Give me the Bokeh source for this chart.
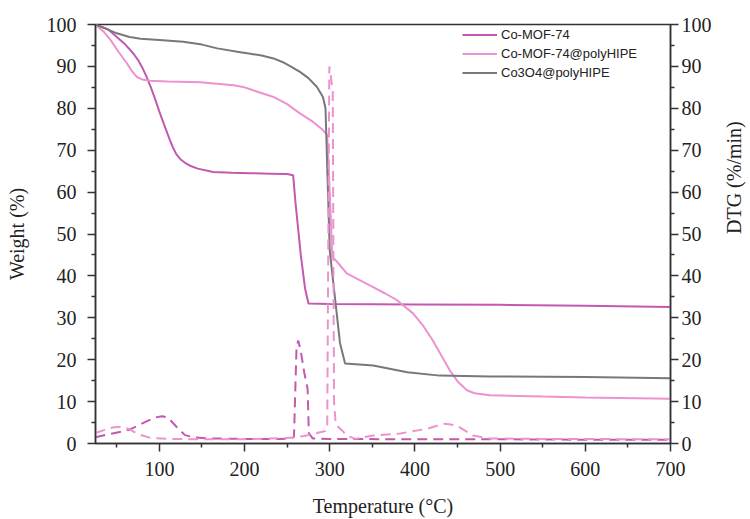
import math
from bokeh.plotting import figure
from bokeh.models import Range1d, LinearAxis, FixedTicker, Legend, LegendItem
from bokeh.embed import file_html
from bokeh.resources import INLINE

# ---- data ----
t_mof = [25, 40, 54, 60, 65, 70, 75, 80, 85, 90, 95, 100, 105, 112, 116, 120, 125, 130, 136, 145, 163, 185, 207, 230, 250, 257,
         260, 266, 271, 275, 300, 400, 500, 600, 700]
w_mof = [100, 98.8, 96.3, 95.2, 94.1, 92.9, 91.5, 89.7, 87.5, 85, 82.2, 79.2, 76.4, 72.6, 70.6, 69.0, 67.8, 67.0, 66.3, 65.6, 64.8, 64.6, 64.5, 64.4, 64.3, 64.0,
         57, 45, 37, 33.4, 33.3, 33.2, 33.1, 32.9, 32.6]

t_mofp = [25, 35, 43, 52, 62, 68, 74, 80, 89, 110, 148, 187, 200, 210, 234, 250, 265, 280, 292, 297,
          300, 303, 308, 320, 335, 351, 365, 379, 398, 410, 421, 431, 441, 451, 461, 470, 488, 550, 600, 700]
w_mofp = [100, 98.2, 96.2, 93.5, 90.7, 88.8, 87.4, 86.9, 86.6, 86.4, 86.2, 85.5, 85.0, 84.3, 82.7, 81, 78.8, 76.8, 74.8, 73.6,
          60, 44.5, 43.5, 40.6, 39, 37.3, 35.8, 34.2, 31, 28, 24.6, 21, 17.4, 14.6, 12.7, 12, 11.5, 11.2, 11, 10.7]

t_co = [25, 35, 50, 65, 78, 100, 128, 150, 168, 195, 207, 220, 234, 245, 255, 265, 275, 285, 292, 295, 297, 300,
        306, 312, 318, 351, 391, 429, 488, 600, 700]
w_co = [100, 99.2, 97.9, 97, 96.6, 96.3, 95.9, 95.2, 94.3, 93.4, 93, 92.6, 91.9, 91.0, 89.9, 88.7, 87.2, 85.1, 82.7, 80, 66, 46,
        35, 24, 19.1, 18.6, 17, 16.2, 16, 15.9, 15.6]

t_dtg_mof = [25, 40, 55, 65, 80, 95, 103, 110, 120, 130, 140, 160, 200, 240, 255, 258, 261, 263, 266, 270, 274, 275.5,
             280, 300, 400, 500, 600, 700]
d_dtg_mof = [1.5, 2.2, 2.8, 3.3, 4.8, 6.2, 6.5, 6.2, 4.0, 2.0, 1.5, 1.2, 1.1, 1.1, 1.2, 1.6, 23, 24.6, 22, 17, 13, 2.4,
             1.2, 1.1, 1.0, 1.0, 0.9, 0.9]

t_dtg_mofp = [25, 35, 45, 55, 65, 75, 90, 110, 150, 200, 250, 270, 285, 295, 297, 299.5, 301, 303.5, 305, 307,
              315, 320, 330, 351, 383, 414, 433, 440, 449, 468, 488, 550, 700]
d_dtg_mofp = [2.5, 3.2, 3.8, 4.0, 3.4, 2.2, 1.3, 1.1, 1.0, 1.0, 1.3, 1.8, 2.5, 3.0, 3.5, 90, 88, 84, 10, 4.5,
              3, 1.9, 1.1, 1.9, 2.4, 3.5, 4.7, 4.6, 4.3, 1.9, 1.2, 1.1, 1.0]

labels = ["Co-MOF-74", "Co-MOF-74@polyHIPE", "Co3O4@polyHIPE"]
colors = ["#C458B0", "#EC92CF", "#787878"]

x_ticks = [100, 200, 300, 400, 500, 600, 700]
x_minor = [50, 150, 250, 350, 450, 550, 650]
y_ticks = [0, 10, 20, 30, 40, 50, 60, 70, 80, 90, 100]
y_minor = [5, 15, 25, 35, 45, 55, 65, 75, 85, 95]

SERIF = "Liberation Serif"

p = figure(frame_width=575, frame_height=419, min_border_left=95, min_border_right=80,
           min_border_top=24, min_border_bottom=74,
           x_range=Range1d(25, 700), y_range=Range1d(0, 100),
           output_backend="svg", toolbar_location=None,
           x_axis_label="Temperature (°C)", y_axis_label="Weight (%)")
p.extra_y_ranges = {"dtg": Range1d(0, 100)}
p.xgrid.visible = False
p.ygrid.visible = False
p.outline_line_color = "#333333"
p.outline_line_width = 1.5
p.background_fill_color = "white"
p.border_fill_color = "white"

r1 = p.line(t_mof, w_mof, color=colors[0], line_width=2)
r2 = p.line(t_mofp, w_mofp, color=colors[1], line_width=2)
r3 = p.line(t_co, w_co, color=colors[2], line_width=2)
p.line(t_dtg_mof, d_dtg_mof, color=colors[0], line_width=2, line_dash="10 6", y_range_name="dtg")
p.line(t_dtg_mofp, d_dtg_mofp, color=colors[1], line_width=2, line_dash="10 6", y_range_name="dtg")

right = LinearAxis(y_range_name="dtg", axis_label="DTG (%/min)")
p.add_layout(right, "right")

def style(ax, ticks, minor):
    ax.ticker = FixedTicker(ticks=ticks, minor_ticks=minor)
    ax.axis_line_color = "#333333"
    ax.axis_line_width = 1.5
    ax.major_tick_line_color = "#333333"
    ax.minor_tick_line_color = "#333333"
    ax.major_tick_line_width = 1.5
    ax.minor_tick_line_width = 1.5
    ax.major_tick_out = 8
    ax.major_tick_in = 0
    ax.minor_tick_out = 4
    ax.minor_tick_in = 0
    ax.major_label_text_font = SERIF
    ax.major_label_text_font_size = "20px"
    ax.major_label_text_color = "#222222"
    ax.axis_label_text_font = SERIF
    ax.axis_label_text_font_size = "20px"
    ax.axis_label_text_font_style = "normal"
    ax.axis_label_text_color = "#222222"

style(p.xaxis[0], x_ticks, x_minor)
style(p.yaxis[0], y_ticks, y_minor)
style(right, y_ticks, y_minor)
p.xaxis[0].major_label_standoff = 10
p.xaxis[0].axis_label_standoff = 16
p.yaxis[0].major_label_standoff = 11
p.yaxis[0].axis_label_standoff = 16
right.major_label_standoff = 3
right.axis_label_standoff = 19
right.axis_label_orientation = math.pi / 2

legend = Legend(items=[LegendItem(label=labels[0], renderers=[r1]),
                       LegendItem(label=labels[1], renderers=[r2]),
                       LegendItem(label=labels[2], renderers=[r3])],
                location=(367, 361), padding=0, margin=0, spacing=0,
                glyph_width=35, glyph_height=19, label_height=19, label_standoff=4,
                label_text_font="Liberation Sans", label_text_font_size="13px",
                label_text_color="#222222", border_line_color=None,
                background_fill_alpha=0)
p.add_layout(legend, "center")

open("out.html", "w").write(file_html(p, INLINE))
